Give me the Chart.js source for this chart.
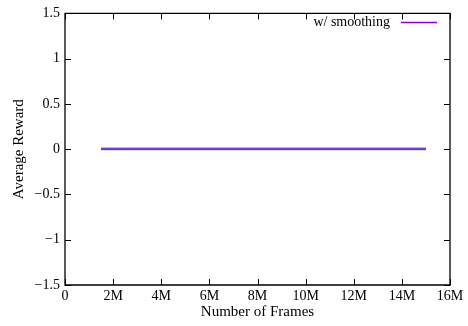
<!DOCTYPE html>
<html>
<head>
<meta charset="utf-8">
<script src="https://cdn.jsdelivr.net/npm/chart.js@4"></script>
<style>
  html, body { margin: 0; padding: 0; background: #fff; }
  #wrap { width: 468px; height: 326px; }
</style>
</head>
<body>
<div id="wrap"><canvas id="c" width="468" height="326"></canvas></div>
<script>
// Training frames at which the reward was logged
const frames = [1.5e6, 3e6, 4.5e6, 6e6, 7.5e6, 9e6, 10.5e6, 12e6, 13.5e6, 15e6];
// Average reward per run
const smoothed = [0, 0, 0, 0, 0, 0, 0, 0, 0, 0];
const rawRun   = [0.012, 0.012, 0.012, 0.012, 0.012, 0.012, 0.012, 0.012, 0.012, 0.012];
const meanRun  = [0, 0, 0, 0, 0, 0, 0, 0, 0, 0];
// Axis ticks
const xTicks = [0, 2e6, 4e6, 6e6, 8e6, 10e6, 12e6, 14e6, 16e6];
const yTicks = [-1.5, -1, -0.5, 0, 0.5, 1, 1.5];

const FONT = "'Liberation Serif', 'Times New Roman', serif";

function pts(ys) { return frames.map((f, i) => ({ x: f, y: ys[i] })); }
function fmtY(v) {
  const s = String(Math.abs(v));
  return v < 0 ? '\u2212' + s : s;
}
function fmtX(v) { return v === 0 ? '0' : (v / 1e6) + 'M'; }

// Frame box, inward tick marks on all four sides, and the key
const framePlugin = {
  id: 'frame',
  afterDraw(chart) {
    const { ctx, chartArea: a, scales } = chart;
    const xs = scales.x, ys = scales.y;
    const L = 6;
    ctx.save();
    ctx.strokeStyle = '#000';
    ctx.lineWidth = 1.3;
    ctx.beginPath();
    ctx.rect(a.left, a.top, a.right - a.left, a.bottom - a.top);
    ctx.stroke();
    ctx.lineWidth = 1;
    ctx.beginPath();
    xTicks.forEach(v => {
      const px = Math.round(xs.getPixelForValue(v)) + 0.5;
      ctx.moveTo(px, a.bottom); ctx.lineTo(px, a.bottom - L);
      ctx.moveTo(px, a.top); ctx.lineTo(px, a.top + L);
    });
    yTicks.forEach(v => {
      const py = Math.round(ys.getPixelForValue(v)) + 0.5;
      ctx.moveTo(a.left, py); ctx.lineTo(a.left + L, py);
      ctx.moveTo(a.right, py); ctx.lineTo(a.right - L, py);
    });
    ctx.stroke();

    // key: label right-aligned, then a line sample
    const ds = chart.data.datasets[0];
    const ky = a.top + 9;
    const sampleR = a.right - 13;
    const sampleL = sampleR - 36;
    ctx.strokeStyle = ds.borderColor;
    ctx.lineWidth = 1.5;
    ctx.beginPath();
    ctx.moveTo(sampleL, ky); ctx.lineTo(sampleR, ky);
    ctx.stroke();
    ctx.fillStyle = '#000';
    ctx.font = '14px ' + FONT;
    ctx.textAlign = 'right';
    ctx.textBaseline = 'middle';
    ctx.fillText(ds.label, sampleL - 11, ky);
    ctx.restore();
  }
};

new Chart(document.getElementById('c'), {
  type: 'line',
  data: {
    datasets: [
      { label: 'w/ smoothing', data: pts(smoothed), borderColor: '#9400d3', borderWidth: 1.2, pointRadius: 0, tension: 0 },
      { label: 'mean', data: pts(meanRun), borderColor: '#6288c4', borderWidth: 2.2, pointRadius: 0, tension: 0 },
      { label: 'raw', data: pts(rawRun), borderColor: '#1aa38e', borderWidth: 1.1, pointRadius: 0, tension: 0 }
    ]
  },
  options: {
    responsive: false,
    animation: false,
    devicePixelRatio: 1,
    layout: { padding: { top: 12, right: 18, left: 0, bottom: 0 } },
    plugins: { legend: { display: false }, tooltip: { enabled: false } },
    scales: {
      x: {
        type: 'linear', min: 0, max: 16e6,
        afterFit(s) { s.height = 41; },
        afterBuildTicks(s) { s.ticks = xTicks.map(v => ({ value: v })); },
        grid: { display: false, drawTicks: false },
        border: { display: false },
        ticks: { callback: fmtX, color: '#000', font: { family: FONT, size: 14 }, padding: 3, maxRotation: 0, autoSkip: false },
        title: { display: true, text: 'Number of Frames', color: '#000', font: { family: FONT, size: 15 }, padding: { top: 0, bottom: 5 } }
      },
      y: {
        type: 'linear', min: -1.5, max: 1.5,
        afterFit(s) { s.width = 65; },
        afterBuildTicks(s) { s.ticks = yTicks.map(v => ({ value: v })); },
        grid: { display: false, drawTicks: false },
        border: { display: false },
        ticks: { callback: fmtY, color: '#000', font: { family: FONT, size: 14 }, padding: 5, autoSkip: false },
        title: { display: true, text: 'Average Reward', color: '#000', font: { family: FONT, size: 15 }, padding: { top: 10, bottom: 0 } }
      }
    }
  },
  plugins: [framePlugin]
});
</script>
</body>
</html>
